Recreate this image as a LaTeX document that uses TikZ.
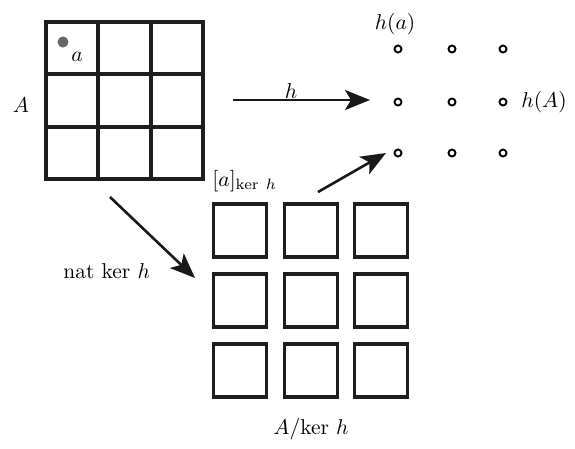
\documentclass[tikz,border=0pt]{standalone}
\usetikzlibrary{arrows.meta}
\begin{document}
\begin{tikzpicture}[x=1pt,y=1pt,
  gridline/.style={line width=3.8pt,draw={rgb,255:red,30;green,30;blue,30}},
  cellbox/.style={line width=3.8pt,draw={rgb,255:red,30;green,30;blue,30}},
  imgdot/.style={circle,draw=black,line width=1.9pt,inner sep=0pt,minimum size=7pt},
  maparrow/.style={line width=2.6pt,draw={rgb,255:red,25;green,25;blue,25},-{Stealth[length=25pt,width=20pt,inset=6pt]}},
  lbl/.style={inner sep=0pt,scale=2.15}]
\useasboundingbox (0,0) rectangle (575,-448);
% set A
\draw[gridline] (46,-22) rectangle (203,-179);
\draw[gridline] (98.3,-22) -- (98.3,-179);
\draw[gridline] (150.7,-22) -- (150.7,-179);
\draw[gridline] (46,-74.3) -- (203,-74.3);
\draw[gridline] (46,-126.7) -- (203,-126.7);
\fill[gray!80!black] (63,-42) circle (5.5);
\node[lbl] (la) at (77,-57) {$a$};
\node[lbl] (lA) at (21,-105) {$A$};
% image h(A)
\foreach \i/\x in {1/398,2/452,3/503}{
  \foreach \j/\y in {1/-49,2/-102,3/-153}{
    \node[imgdot] (d\i\j) at (\x,\y) {};
  }
}
\node[lbl] (lha) at (395,-24) {$h(a)$};
\node[lbl,anchor=west] (lhA) at (521,-102) {$h(A)$};
% quotient
\foreach \i/\x in {1/240,2/311,3/381}{
  \foreach \j/\y in {1/-230.5,2/-300.5,3/-370.5}{
    \draw[cellbox] (\x-26.5,\y-26.5) rectangle (\x+26.5,\y+26.5);
    \coordinate (q\i\j) at (\x,\y);
  }
}
\node[lbl,anchor=base west] (lcls) at (212,-186) {$[a]_{\mathrm{ker}\ h}$};
\node[lbl] (lquot) at (311,-429) {$A/$ker $h$};
\node[lbl,anchor=base west] (lnat) at (63,-278) {nat ker $h$};
% arrows
\coordinate (hs) at (233,-100);
\coordinate (he) at (370,-100);
\draw[maparrow] (hs) -- (he);
\node[lbl] (lh) at (291,-91) {$h$};
\coordinate (ns) at (110,-197);
\coordinate (ne) at (195,-278);
\draw[maparrow] (ns) -- (ne);
\coordinate (cs) at (318,-192);
\coordinate (ce) at (386,-153);
\draw[maparrow] (cs) -- (ce);
\end{tikzpicture}
\end{document}
